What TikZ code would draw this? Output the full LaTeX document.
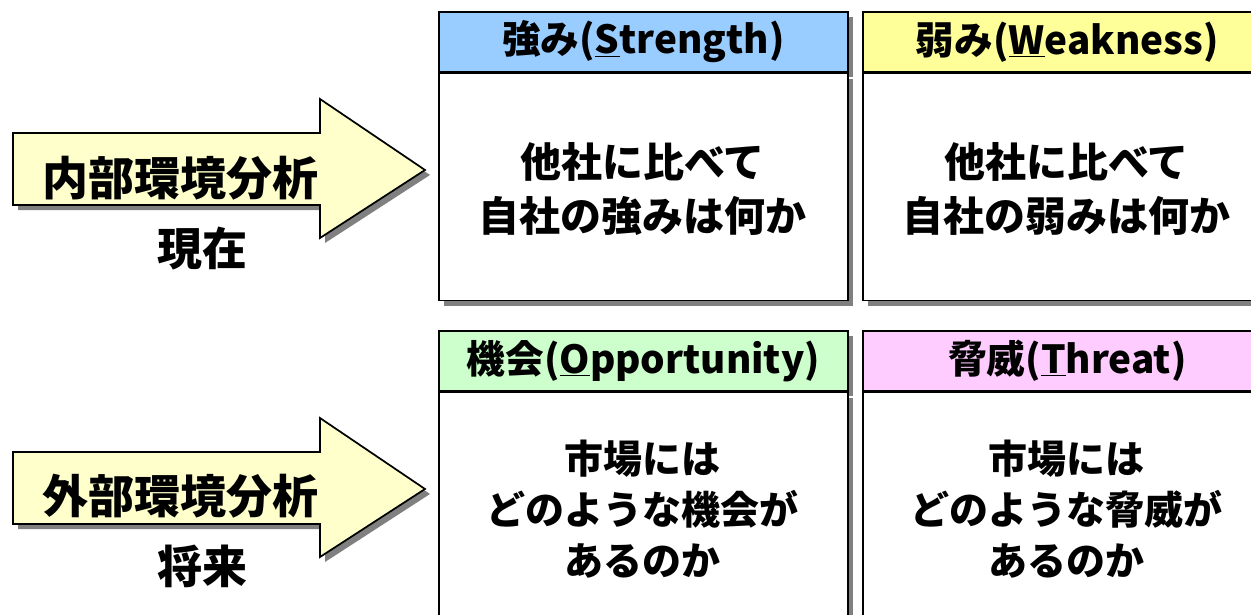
\documentclass[tikz,border=0pt]{standalone}
\usepackage{fontspec}
\setmainfont{Noto Sans CJK JP}
\usetikzlibrary{shadows}
\definecolor{shadowgray}{HTML}{808080}
\definecolor{arrowfill}{HTML}{FFFFCC}
\definecolor{sblue}{HTML}{99CCFF}
\definecolor{wyellow}{HTML}{FFFF99}
\definecolor{ogreen}{HTML}{CCFFCC}
\definecolor{tpink}{HTML}{FFCCFF}
\tikzset{
  boxshadow/.style={drop shadow={shadow xshift=3.75pt, shadow yshift=-3.75pt, fill=shadowgray, opacity=1}},
  hdrbox/.style={draw=black, line width=1.3pt, minimum width=306.75pt, minimum height=45pt, anchor=north west, inner sep=0pt, boxshadow, font=\fontsize{29pt}{36pt}\selectfont\bfseries},
  bodybox/.style={draw=black, fill=white, line width=1.3pt, minimum width=306.75pt, minimum height=170.25pt, anchor=north west, inner sep=0pt, boxshadow},
  bodytxtA/.style={align=center, inner sep=0pt, font=\fontsize{30.75pt}{40.5pt}\selectfont\bfseries},
  bodytxtB/.style={align=center, inner sep=0pt, font=\fontsize{29.25pt}{38.25pt}\selectfont\bfseries},
  arrowshape/.style={draw=black, fill=arrowfill, line width=1.3pt, line join=miter},
  arrowshadow/.style={fill=shadowgray, draw=none},
  arrowtxt/.style={inner sep=0pt, font=\fontsize{34.5pt}{40pt}\selectfont\bfseries},
  timetxt/.style={inner sep=0pt, font=\fontsize{33.75pt}{40pt}\selectfont\bfseries}
}
\newcommand\hdtext[3]{\raisebox{-2.25pt}{#1(\underline{#2}#3)}}
\begin{document}
\begin{tikzpicture}[x=0.75pt,y=-0.75pt]
\useasboundingbox (0,0) rectangle (1251,614);
\clip (0,0) rectangle (1251,614);
% arrows
\foreach \dy in {0,319}{
  \begin{scope}[shift={(0,\dy)}]
    \path[arrowshadow] (18,138) -- (325,138) -- (325,104) -- (430,175) -- (325,243) -- (325,210) -- (18,210) -- cycle;
    \draw[arrowshape] (13,133) -- (320,133) -- (320,99) -- (425,170) -- (320,238) -- (320,205) -- (13,205) -- cycle;
  \end{scope}
}
\node[arrowtxt] (inner) at (180,178) {内部環境分析};
\node[timetxt] (now) at (202,249) {現在};
\node[arrowtxt] (outer) at (180,496) {外部環境分析};
\node[timetxt] (future) at (202,566) {将来};
% boxes
\node[hdrbox, fill=sblue] (sh) at (438,11) {\hdtext{強み}{S}{trength}};
\node[bodybox] (sb) at (sh.south west) {};
\node[hdrbox, fill=wyellow] (wh) at (862,11) {\hdtext{弱み}{W}{eakness}};
\node[bodybox] (wb) at (wh.south west) {};
\node[hdrbox, fill=ogreen] (oh) at (438,330) {\hdtext{機会}{O}{pportunity}};
\node[bodybox] (ob) at (oh.south west) {};
\node[hdrbox, fill=tpink] (th) at (862,330) {\hdtext{脅威}{T}{hreat}};
\node[bodybox] (tb) at (th.south west) {};
% texts
\node[bodytxtA] (st) at (642.5,189) {他社に比べて\\自社の強みは何か};
\node[bodytxtA] (wt) at (1066.5,189) {他社に比べて\\自社の弱みは何か};
\node[bodytxtB] (ot) at (642.5,509) {市場には\\どのような機会が\\あるのか};
\node[bodytxtB] (tt) at (1066.5,509) {市場には\\どのような脅威が\\あるのか};
\end{tikzpicture}
\end{document}
